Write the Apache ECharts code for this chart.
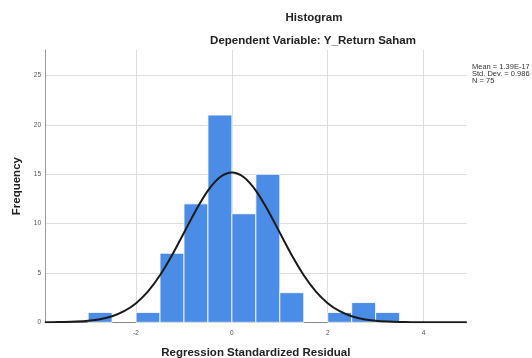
<!DOCTYPE html>
<html>
<head>
<meta charset="utf-8">
<script src="https://cdn.jsdelivr.net/npm/echarts@6/dist/echarts.min.js"></script>
<style>
html,body{margin:0;padding:0;background:#fff;}
#c{width:532px;height:358px;}
</style>
</head>
<body>
<div id="c"></div>
<script>
// Histogram bins (start of each bin, width 0.5) and frequencies
var binStarts = [-3.0, -2.5, -2.0, -1.5, -1.0, -0.5, 0.0, 0.5, 1.0, 1.5, 2.0, 2.5, 3.0];
var binWidth = 0.5;
var counts =    [1,    0,    1,    7,    12,   21,   11,   15,   3,    0,    1,    2,    1];

// Normal curve points
var curveX = [-3.9, -3.75, -3.5, -3.25, -3.0, -2.75, -2.5, -2.25, -2.0, -1.75, -1.5, -1.25, -1.0, -0.75, -0.5, -0.25, 0.0,
              0.25, 0.5, 0.75, 1.0, 1.25, 1.5, 1.75, 2.0, 2.25, 2.5, 2.75, 3.0, 3.25, 3.5, 3.75, 4.0, 4.5, 4.9];
var curveY = [0.0, 0.01, 0.03, 0.07, 0.15, 0.31, 0.61, 1.12, 1.94, 3.14, 4.77, 6.79, 9.07, 11.36, 13.34, 14.69, 15.17,
              14.69, 13.34, 11.36, 9.07, 6.79, 4.77, 3.14, 1.94, 1.12, 0.61, 0.31, 0.15, 0.07, 0.03, 0.01, 0.0, 0.0, 0.0];

// Tick labels
var xTickValues = [-2, 0, 2, 4];
var yTickValues = [0, 5, 10, 15, 20, 25];

var statsLines = ['Mean = 1.39E-17', 'Std. Dev. = 0.986', 'N = 75'];

var barData = binStarts.map(function (s, i) { return [s, s + binWidth, counts[i]]; });
var curveData = curveX.map(function (x, i) { return [x, curveY[i]]; });

var chart = echarts.init(document.getElementById('c'), null, {renderer: 'canvas'});
var FONT = '"Liberation Sans", Arial, sans-serif';

chart.setOption({
  animation: false,
  backgroundColor: '#ffffff',
  title: [
    {text: 'Histogram', left: 309, top: 7, textAlign: 'center',
     textStyle: {fontFamily: FONT, fontSize: 11.5, fontWeight: 'bold', color: '#222'}},
    {text: 'Dependent Variable: Y_Return Saham', left: 308, top: 30, textAlign: 'center',
     textStyle: {fontFamily: FONT, fontSize: 11.5, fontWeight: 'bold', color: '#222'}}
  ],
  graphic: [{
    type: 'text', left: 472, top: 63,
    style: {text: statsLines.join('\n'), fontFamily: FONT, fontSize: 7.5, lineHeight: 6.8, fill: '#333'}
  }],
  grid: {left: 45, right: 65.3, top: 50, bottom: 35.7, containLabel: false, outerBoundsMode: 'none'},
  xAxis: {
    type: 'value', min: -3.9, max: 4.9,
    name: 'Regression Standardized Residual', nameLocation: 'middle', nameGap: 25,
    nameTextStyle: {fontFamily: FONT, fontSize: 11.5, fontWeight: 'bold', color: '#222'},
    axisLine: {show: true, onZero: false, lineStyle: {color: '#888', width: 1}},
    axisTick: {show: false, customValues: xTickValues},
    axisLabel: {customValues: xTickValues, fontFamily: FONT, fontSize: 6.5, color: '#555', margin: 7},
    splitLine: {show: true, lineStyle: {color: '#dddddd', width: 1}}
  },
  yAxis: {
    type: 'value', min: 0, max: 27.59,
    name: 'Frequency', nameLocation: 'middle', nameGap: 21, nameRotate: 90,
    nameTextStyle: {fontFamily: FONT, fontSize: 11.5, fontWeight: 'bold', color: '#222'},
    axisLine: {show: true, onZero: false, lineStyle: {color: '#999', width: 1}},
    axisTick: {show: false, customValues: yTickValues},
    axisLabel: {customValues: yTickValues, fontFamily: FONT, fontSize: 6.5, color: '#555', margin: 4},
    splitLine: {show: true, lineStyle: {color: '#dddddd', width: 1}}
  },
  series: [
    {
      type: 'custom',
      data: barData,
      encode: {x: [0, 1], y: 2},
      renderItem: function (params, api) {
        var v = api.value(2);
        if (!v) return null;
        var p0 = api.coord([api.value(0), v]);
        var p1 = api.coord([api.value(1), 0]);
        return {
          type: 'rect',
          shape: {x: p0[0], y: p0[1], width: p1[0] - p0[0], height: p1[1] - p0[1]},
          style: {fill: '#4b8de6', stroke: 'rgba(255,255,255,0.85)', lineWidth: 1}
        };
      },
      z: 2
    },
    {
      type: 'line',
      data: curveData,
      smooth: 0.3,
      showSymbol: false,
      lineStyle: {color: '#1a1a1a', width: 2},
      z: 3
    }
  ]
});
</script>
</body>
</html>
